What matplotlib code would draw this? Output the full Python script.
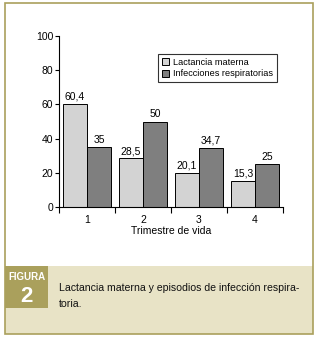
import matplotlib.pyplot as plt
import numpy as np
from matplotlib.patches import Rectangle

# data
trimestres = ['1', '2', '3', '4']
lactancia = [60.4, 28.5, 20.1, 15.3]
infecciones = [35, 50, 34.7, 25]
lactancia_lbl = ['60,4', '28,5', '20,1', '15,3']
infecciones_lbl = ['35', '50', '34,7', '25']

plt.rcParams['font.family'] = ['Liberation Sans Narrow', 'Liberation Sans', 'DejaVu Sans']

W, H = 320, 341
fig = plt.figure(figsize=(W / 100, H / 100), dpi=100)

def fx(px):
    return px / W

def fy(py):
    return 1 - py / H

olive = '#aaa05c'
beige = '#e8e3c6'

# outer frame and caption panel
fig.patches.append(Rectangle((fx(5), fy(334)), fx(308), 68 / H, transform=fig.transFigure,
                             facecolor=beige, edgecolor='none', zorder=0))
fig.patches.append(Rectangle((fx(5), fy(334)), fx(308), 331 / H, transform=fig.transFigure,
                             facecolor='none', edgecolor=olive, lw=1.2, zorder=1))
fig.patches.append(Rectangle((fx(5), fy(308)), fx(43), 42 / H, transform=fig.transFigure,
                             facecolor=olive, edgecolor='none', zorder=2))
fig.text(fx(26.5), fy(277), 'FIGURA', color='white', fontsize=7, fontweight='bold',
         ha='center', va='center')
fig.text(fx(26.5), fy(296), '2', color='white', fontsize=16, fontweight='bold',
         ha='center', va='center')
fig.text(fx(59), fy(288), 'Lactancia materna y episodios de infección respira-',
         fontsize=7.6, ha='left', va='center', color='#111111')
fig.text(fx(59), fy(304), 'toria.', fontsize=7.6, ha='left', va='center', color='#111111')

# chart
ax = fig.add_axes([fx(59), fy(207), 224 / W, 171 / H])
x = np.arange(len(trimestres))
w = 0.43
b1 = ax.bar(x - w / 2, lactancia, w, color='#d3d3d3', edgecolor='black', lw=0.7,
            label='Lactancia materna')
b2 = ax.bar(x + w / 2, infecciones, w, color='#7f7f7f', edgecolor='black', lw=0.7,
            label='Infecciones respiratorias')
ax.bar_label(b1, labels=lactancia_lbl, padding=1.5, fontsize=7.5)
ax.bar_label(b2, labels=infecciones_lbl, padding=1.5, fontsize=7.5)

ax.set_xlim(-0.5, 3.5)
ax.set_ylim(0, 100)
ax.set_yticks([0, 20, 40, 60, 80, 100])
ax.set_xticks(x)
ax.set_xticklabels(trimestres)
ax.set_xticks(np.arange(-0.5, 4, 1), minor=True)
ax.tick_params(axis='x', which='major', length=0, labelsize=7.5, pad=6)
ax.tick_params(axis='x', which='minor', length=4, width=0.8, direction='out')
ax.tick_params(axis='y', length=3, width=0.8, labelsize=7.5, pad=1)
ax.spines['top'].set_visible(False)
ax.spines['right'].set_visible(False)
ax.spines['left'].set_linewidth(0.8)
ax.spines['bottom'].set_linewidth(0.8)
ax.set_xlabel('Trimestre de vida', fontsize=7.5, labelpad=0.5)

leg = ax.legend(loc='upper left', bbox_to_anchor=(0.442, 0.895), borderaxespad=0,
                fontsize=6.6, frameon=True, fancybox=False, edgecolor='black',
                handlelength=0.8, handleheight=0.8, handletextpad=0.4,
                borderpad=0.45, labelspacing=0.25)
leg.get_frame().set_linewidth(0.8)

fig.savefig('out.png', dpi=100)
